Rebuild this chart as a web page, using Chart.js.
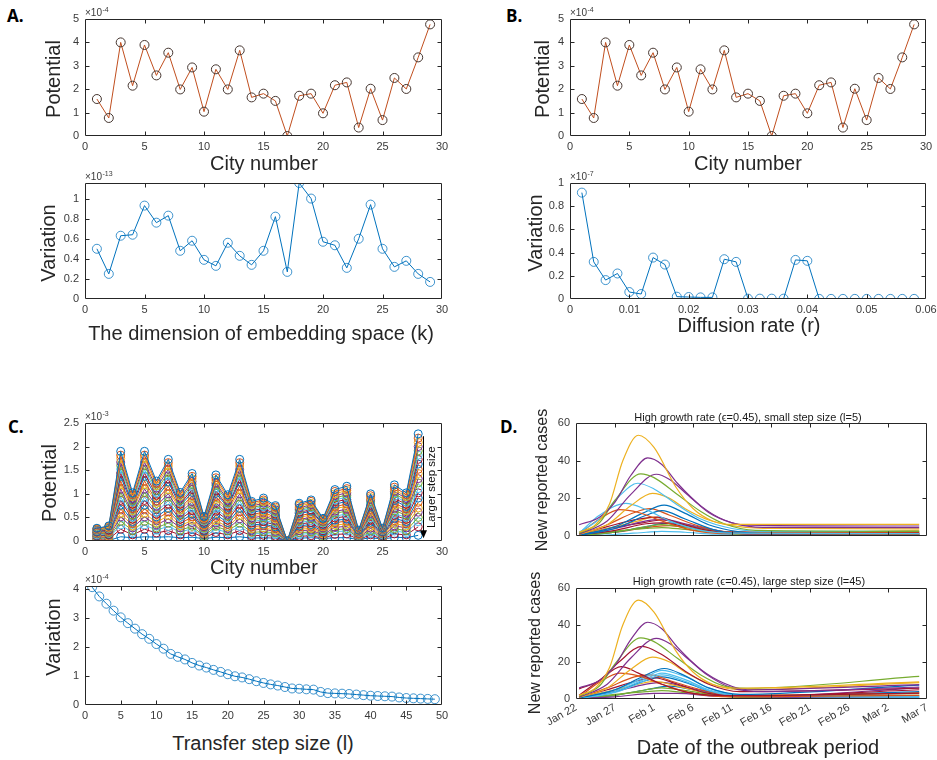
<!DOCTYPE html>
<html>
<head>
<meta charset="utf-8">
<script src="https://cdn.jsdelivr.net/npm/chart.js@4.4.1/dist/chart.umd.min.js"></script>
<style>
  body { margin: 0; background: #fff; width: 937px; height: 760px; position: relative; overflow: hidden;
         font-family: "Liberation Sans", Arial, sans-serif; }
  .box { position: absolute; }
  .lbl { position: absolute; transform: translate(-50%, -50%); white-space: nowrap; color: #262626; font-size: 20px; }
  .rot { transform: translate(-50%, -50%) rotate(-90deg); }
  .small { font-size: 16px; }
  .ttl { font-size: 11px; color: #1a1a1a; }
  .tag { position: absolute; font-family: "Open Sans", sans-serif; font-weight: 700; font-size: 17px; color: #000; }
</style>
</head>
<body>
<div class="box" id="a1"><canvas></canvas></div>
<div class="box" id="a2"><canvas></canvas></div>
<div class="box" id="b1"><canvas></canvas></div>
<div class="box" id="b2"><canvas></canvas></div>
<div class="box" id="c1"><canvas></canvas></div>
<div class="box" id="c2"><canvas></canvas></div>
<div class="box" id="d1"><canvas></canvas></div>
<div class="box" id="d2"><canvas></canvas></div>

<div class="tag" style="left:7px;top:4px">A.</div>
<div class="tag" style="left:506px;top:4px">B.</div>
<div class="tag" style="left:8px;top:415px">C.</div>
<div class="tag" style="left:500px;top:415px">D.</div>

<div class="lbl rot" style="left:53px;top:79px">Potential</div>
<div class="lbl" style="left:264px;top:163px">City number</div>
<div class="lbl rot" style="left:48px;top:243px">Variation</div>
<div class="lbl" style="left:261px;top:333px">The dimension of embedding space (k)</div>

<div class="lbl rot" style="left:542px;top:79px">Potential</div>
<div class="lbl" style="left:748px;top:163px">City number</div>
<div class="lbl rot" style="left:535px;top:233px">Variation</div>
<div class="lbl" style="left:749px;top:325px">Diffusion rate (r)</div>

<div class="lbl rot" style="left:49px;top:483px">Potential</div>
<div class="lbl" style="left:264px;top:567px">City number</div>
<div class="lbl rot" style="left:53px;top:637px">Variation</div>
<div class="lbl" style="left:263px;top:743px">Transfer step size (l)</div>

<div class="lbl ttl" style="left:748px;top:417px">High growth rate (&#x3F5;=0.45), small step size (l=5)</div>
<div class="lbl rot small" style="left:542px;top:480px">New reported cases</div>
<div class="lbl ttl" style="left:749px;top:581px">High growth rate (&#x3F5;=0.45), large step size (l=45)</div>
<div class="lbl rot small" style="left:535px;top:643px">New reported cases</div>
<div class="lbl" style="left:758px;top:747px">Date of the outbreak period</div>

<script>
(() => {
  "use strict";

  // ---- data ----
  const cityNumbers = [1, 2, 3, 4, 5, 6, 7, 8, 9, 10, 11, 12, 13, 14, 15, 16, 17, 18, 19, 20,
    21, 22, 23, 24, 25, 26, 27, 28, 29];
  // potential, x1e-4
  const cityPotential = [1.58, 0.77, 4.00, 2.15, 3.89, 2.59, 3.56, 1.99, 2.93, 1.04, 2.85, 1.99,
    3.66, 1.65, 1.81, 1.50, 0.00, 1.72, 1.81, 0.97, 2.17, 2.29, 0.36, 2.02, 0.68, 2.48, 2.01, 3.36, 4.77];

  const embedDims = [1, 2, 3, 4, 5, 6, 7, 8, 9, 10, 11, 12, 13, 14, 15, 16, 17, 18, 19, 20,
    21, 22, 23, 24, 25, 26, 27, 28, 29];
  // variation, x1e-13
  const embedVariation = [0.50, 0.25, 0.63, 0.64, 0.93, 0.76, 0.83, 0.48, 0.58, 0.39, 0.33, 0.56,
    0.43, 0.34, 0.48, 0.82, 0.27, 1.155, 1.00, 0.57, 0.535, 0.31, 0.60, 0.94, 0.50, 0.32, 0.38, 0.25, 0.17];

  const diffusionRates = [0.002, 0.004, 0.006, 0.008, 0.010, 0.012, 0.014, 0.016, 0.018, 0.020,
    0.022, 0.024, 0.026, 0.028, 0.030, 0.032, 0.034, 0.036, 0.038, 0.040, 0.042, 0.044, 0.046,
    0.048, 0.050, 0.052, 0.054, 0.056, 0.058];
  // variation, x1e-7
  const diffusionVariation = [0.917, 0.32, 0.163, 0.22, 0.06, 0.043, 0.357, 0.297, 0.02, 0.017,
    0.014, 0.014, 0.343, 0.32, 0.003, 0.003, 0.003, 0.003, 0.337, 0.329, 0.001, 0.001, 0.001,
    0.001, 0.001, 0.001, 0.001, 0.001, 0.001];

  const stepCities = [1, 2, 3, 4, 5, 6, 7, 8, 9, 10, 11, 12, 13, 14, 15, 16, 17, 18, 19, 20,
    21, 22, 23, 24, 25, 26, 27, 28];
  // potential per city for a selection of step sizes (small -> large), x1e-3
  const stepPotential = [
    [0.27, 0.32, 1.90, 1.02, 1.90, 1.27, 1.73, 1.03, 1.43, 0.52, 1.40, 0.98, 1.73, 0.84, 0.91, 0.75, 0.00, 0.80, 0.87, 0.48, 1.09, 1.16, 0.23, 1.00, 0.27, 1.19, 1.02, 2.27],
    [0.26, 0.31, 1.82, 0.98, 1.82, 1.22, 1.66, 0.99, 1.37, 0.50, 1.34, 0.94, 1.66, 0.81, 0.87, 0.72, 0.00, 0.77, 0.84, 0.46, 1.05, 1.11, 0.22, 0.96, 0.26, 1.14, 0.98, 2.18],
    [0.25, 0.29, 1.75, 0.94, 1.75, 1.17, 1.59, 0.95, 1.32, 0.48, 1.29, 0.90, 1.59, 0.77, 0.84, 0.69, 0.00, 0.74, 0.80, 0.44, 1.00, 1.07, 0.21, 0.92, 0.25, 1.09, 0.94, 2.09],
    [0.24, 0.28, 1.67, 0.90, 1.67, 1.12, 1.52, 0.91, 1.26, 0.46, 1.23, 0.86, 1.52, 0.74, 0.80, 0.66, 0.00, 0.70, 0.77, 0.42, 0.96, 1.02, 0.20, 0.88, 0.24, 1.05, 0.90, 2.00],
    [0.23, 0.27, 1.60, 0.86, 1.60, 1.07, 1.45, 0.87, 1.20, 0.44, 1.18, 0.82, 1.45, 0.71, 0.76, 0.63, 0.00, 0.67, 0.73, 0.40, 0.92, 0.97, 0.19, 0.84, 0.23, 1.00, 0.86, 1.91],
    [0.22, 0.26, 1.52, 0.82, 1.52, 1.02, 1.38, 0.82, 1.14, 0.42, 1.12, 0.78, 1.38, 0.67, 0.73, 0.60, 0.00, 0.64, 0.70, 0.38, 0.87, 0.93, 0.18, 0.80, 0.22, 0.95, 0.82, 1.82],
    [0.21, 0.24, 1.44, 0.78, 1.44, 0.97, 1.31, 0.78, 1.09, 0.40, 1.06, 0.74, 1.31, 0.64, 0.69, 0.57, 0.00, 0.61, 0.66, 0.36, 0.83, 0.88, 0.17, 0.76, 0.21, 0.90, 0.78, 1.73],
    [0.19, 0.23, 1.37, 0.73, 1.37, 0.91, 1.25, 0.74, 1.03, 0.37, 1.01, 0.71, 1.25, 0.60, 0.66, 0.54, 0.00, 0.58, 0.63, 0.35, 0.78, 0.84, 0.17, 0.72, 0.19, 0.86, 0.73, 1.63],
    [0.18, 0.21, 1.27, 0.68, 1.27, 0.85, 1.16, 0.69, 0.96, 0.35, 0.94, 0.66, 1.16, 0.56, 0.61, 0.50, 0.00, 0.54, 0.58, 0.32, 0.73, 0.78, 0.15, 0.67, 0.18, 0.80, 0.68, 1.52],
    [0.17, 0.20, 1.20, 0.64, 1.20, 0.80, 1.09, 0.65, 0.90, 0.33, 0.88, 0.62, 1.09, 0.53, 0.57, 0.47, 0.00, 0.50, 0.55, 0.30, 0.69, 0.73, 0.14, 0.63, 0.17, 0.75, 0.64, 1.43],
    [0.16, 0.19, 1.10, 0.59, 1.10, 0.74, 1.00, 0.60, 0.83, 0.30, 0.81, 0.57, 1.00, 0.49, 0.53, 0.44, 0.00, 0.46, 0.50, 0.28, 0.63, 0.67, 0.13, 0.58, 0.16, 0.69, 0.59, 1.32],
    [0.15, 0.17, 1.03, 0.55, 1.03, 0.69, 0.93, 0.56, 0.77, 0.28, 0.76, 0.53, 0.93, 0.45, 0.49, 0.41, 0.00, 0.43, 0.47, 0.26, 0.59, 0.63, 0.12, 0.54, 0.15, 0.64, 0.55, 1.23],
    [0.13, 0.16, 0.93, 0.50, 0.93, 0.62, 0.85, 0.50, 0.70, 0.25, 0.69, 0.48, 0.85, 0.41, 0.45, 0.37, 0.00, 0.39, 0.43, 0.24, 0.53, 0.57, 0.11, 0.49, 0.13, 0.58, 0.50, 1.11],
    [0.12, 0.14, 0.86, 0.46, 0.86, 0.57, 0.78, 0.46, 0.64, 0.23, 0.63, 0.44, 0.78, 0.38, 0.41, 0.34, 0.00, 0.36, 0.39, 0.22, 0.49, 0.52, 0.10, 0.45, 0.12, 0.54, 0.46, 1.02],
    [0.11, 0.13, 0.76, 0.41, 0.76, 0.51, 0.69, 0.41, 0.57, 0.21, 0.56, 0.39, 0.69, 0.34, 0.36, 0.30, 0.00, 0.32, 0.35, 0.19, 0.44, 0.46, 0.09, 0.40, 0.11, 0.48, 0.41, 0.91],
    [0.10, 0.12, 0.68, 0.37, 0.68, 0.46, 0.62, 0.37, 0.51, 0.19, 0.50, 0.35, 0.62, 0.30, 0.33, 0.27, 0.00, 0.29, 0.31, 0.17, 0.39, 0.42, 0.08, 0.36, 0.10, 0.43, 0.37, 0.82],
    [0.08, 0.10, 0.59, 0.32, 0.59, 0.39, 0.54, 0.32, 0.44, 0.16, 0.43, 0.30, 0.54, 0.26, 0.28, 0.23, 0.00, 0.25, 0.27, 0.15, 0.34, 0.36, 0.07, 0.31, 0.08, 0.37, 0.32, 0.70],
    [0.07, 0.09, 0.51, 0.28, 0.51, 0.34, 0.47, 0.28, 0.39, 0.14, 0.38, 0.26, 0.47, 0.23, 0.25, 0.20, 0.00, 0.22, 0.23, 0.13, 0.29, 0.31, 0.06, 0.27, 0.07, 0.32, 0.28, 0.61],
    [0.06, 0.07, 0.42, 0.22, 0.42, 0.28, 0.38, 0.23, 0.31, 0.11, 0.31, 0.22, 0.38, 0.18, 0.20, 0.17, 0.00, 0.18, 0.19, 0.11, 0.24, 0.26, 0.05, 0.22, 0.06, 0.26, 0.22, 0.50],
    [0.05, 0.06, 0.34, 0.18, 0.34, 0.23, 0.31, 0.19, 0.26, 0.09, 0.25, 0.18, 0.31, 0.15, 0.16, 0.14, 0.00, 0.14, 0.16, 0.09, 0.20, 0.21, 0.04, 0.18, 0.05, 0.21, 0.18, 0.41],
    [0.04, 0.04, 0.25, 0.13, 0.25, 0.17, 0.22, 0.13, 0.19, 0.07, 0.18, 0.13, 0.22, 0.11, 0.12, 0.10, 0.00, 0.10, 0.11, 0.06, 0.14, 0.15, 0.03, 0.13, 0.04, 0.15, 0.13, 0.30],
    [0.01, 0.01, 0.09, 0.07, 0.09, 0.08, 0.09, 0.07, 0.08, 0.05, 0.08, 0.07, 0.09, 0.06, 0.07, 0.06, 0.00, 0.06, 0.07, 0.05, 0.07, 0.07, 0.03, 0.07, 0.04, 0.08, 0.07, 0.12]
  ];

  const stepSizes = [1, 2, 3, 4, 5, 6, 7, 8, 9, 10, 11, 12, 13, 14, 15, 16, 17, 18, 19, 20,
    21, 22, 23, 24, 25, 26, 27, 28, 29, 30, 31, 32, 33, 34, 35, 36, 37, 38, 39, 40,
    41, 42, 43, 44, 45, 46, 47, 48, 49];
  // variation, x1e-4
  const stepVariation = [4.06, 3.74, 3.49, 3.25, 3.02, 2.82, 2.63, 2.44, 2.28, 2.10,
    1.94, 1.76, 1.66, 1.57, 1.45, 1.36, 1.29, 1.21, 1.14, 1.06,
    0.99, 0.95, 0.89, 0.82, 0.76, 0.71, 0.67, 0.62, 0.57, 0.56,
    0.54, 0.53, 0.45, 0.41, 0.40, 0.39, 0.38, 0.36, 0.34, 0.32,
    0.31, 0.30, 0.29, 0.26, 0.24, 0.23, 0.22, 0.21, 0.20];

  // outbreak curves: [day since Jan 22, new reported cases]
  const smallStepCurves = [
    [[0.4, 2], [2.5, 6], [4.3, 17], [6, 40], [8, 53.5], [10, 47], [12.8, 26], [15, 14.6], [17.5, 8], [20, 6.2], [44, 6.2]],
    [[0.4, 6], [3, 10], [5, 18], [7, 32], [9.2, 41.5], [11, 38], [13, 28], [16, 16], [19, 8.5], [22, 5.8], [44, 5.3]],
    [[0.4, 1.5], [3, 7], [5, 19], [8.3, 33], [10, 31], [13, 22], [16, 13], [19, 6.5], [23, 3], [44, 2.5]],
    [[0.4, 1], [4, 8], [7, 22], [10.3, 32.8], [12, 30], [14, 23], [17, 12.5], [20, 7], [24, 4.6], [44, 4.4]],
    [[0.4, 2], [3, 9], [5.5, 21], [7.9, 28], [10, 25], [13, 16.5], [16, 9], [20, 4], [24, 2.5], [44, 2.5]],
    [[0.4, 0.8], [4, 6], [7, 16], [9.8, 22.6], [12, 20], [14, 14.5], [17, 8.5], [20, 5.5], [24, 4], [44, 3.8]],
    [[0.4, 1.5], [3, 11], [6.4, 17.3], [9, 14], [12, 8], [16, 3], [20, 1.5], [44, 1.3]],
    [[0.4, 1], [3, 9], [5.6, 14], [8, 12.5], [11, 8], [15, 3], [20, 1.2], [44, 1]],
    [[0.4, 0.5], [5, 5], [8.5, 12], [11.3, 16.4], [14, 12], [17, 6], [21, 2.2], [25, 1.2], [44, 1]],
    [[0.4, 0.3], [5, 4], [9, 11], [11, 13.5], [14, 9], [18, 3], [22, 1.2], [44, 0.8]],
    [[0.4, 0.5], [4, 6], [7.5, 12.5], [9.5, 14.5], [12, 11], [16, 5], [20, 2], [44, 1.6]],
    [[0.4, 1], [4, 5], [8, 9], [10.5, 10], [13, 7], [17, 3], [21, 1.5], [44, 1.8]],
    [[0.4, 0.5], [5, 4], [9, 8], [11, 9], [14, 6.5], [18, 3], [22, 1], [44, 0.9]],
    [[0.4, 0.2], [5, 2], [9, 5], [11, 6], [14, 4.5], [18, 2], [22, 0.8], [44, 0.5]],
    [[0.4, 1], [4, 4], [8, 8], [10, 10], [13, 7], [17, 3], [22, 1.5], [44, 3]],
    [[0.4, 0.1], [5, 0.8], [9, 2], [11, 2.5], [14, 2], [18, 1], [44, 0.3]],
    [[0.4, 0.3], [5, 3], [9, 6.5], [11, 7], [14, 5], [18, 2], [22, 1], [44, 1.1]],
    [[0.4, 0.5], [5, 2.5], [9, 4], [11, 4.5], [14, 3.5], [18, 2], [44, 1]],
    [[0.4, 0.2], [5, 2], [9, 5], [12, 7], [15, 5], [19, 2], [44, 0.5]],
    [[0.4, 0.2], [5, 2], [10, 5], [12, 5.5], [15, 4], [19, 2], [44, 2.4]],
    [[0.4, 0.5], [4, 4], [8.5, 7], [11, 8.5], [14, 6], [18, 2.5], [44, 1.5]]
  ];
  const largeStepCurves = [
    [[0.4, 2], [2.5, 6], [4.3, 17], [6, 40], [8, 53.5], [10, 47], [12.8, 26], [15, 14.6], [17.5, 8], [21, 5.8], [44, 9.3]],
    [[0.4, 6], [3, 10], [5, 18], [7, 32], [9.2, 41.5], [11, 38], [13, 28], [16, 16], [19, 8.5], [22, 5], [44, 7.8]],
    [[0.4, 1.5], [3, 7], [5, 19], [8.3, 33], [10, 31], [13, 22], [16, 13], [19, 7], [22, 5.8], [44, 12.2]],
    [[0.4, 1], [4, 8], [7, 22], [10.3, 32.8], [12, 30], [14, 23], [17, 12.5], [20, 6], [24, 4], [44, 6.5]],
    [[0.4, 5.5], [3, 10], [5.5, 20], [8.5, 28.5], [11, 24], [14, 15], [17, 8], [21, 4], [44, 5.8]],
    [[0.4, 0.8], [4, 6], [7, 16], [9.8, 22.6], [12, 20], [14, 14.5], [17, 8.5], [21, 5], [44, 8.8]],
    [[0.4, 2], [3, 10], [5.8, 17.5], [8, 14], [11, 8], [15, 3], [20, 1.8], [44, 3.2]],
    [[0.4, 1], [3, 9], [5.6, 14], [8, 12.5], [11, 8], [15, 3], [20, 1.2], [44, 2]],
    [[0.4, 0.5], [5, 5], [8.5, 12], [11.3, 16.5], [14, 12.5], [17, 6], [21, 2.5], [44, 7.5]],
    [[0.4, 0.5], [5, 5], [9, 12], [11, 15.5], [14, 12], [17, 6], [21, 2], [44, 1.5]],
    [[0.4, 0.3], [5, 4], [9, 11], [11, 14], [14, 10.5], [17, 5], [21, 2], [44, 1]],
    [[0.4, 0.3], [5, 3.5], [9, 10], [11, 13], [14, 9.5], [17, 4.5], [21, 1.5], [44, 1.2]],
    [[0.4, 1], [4, 5], [8, 10], [10, 11.5], [13, 8], [17, 3], [22, 1.5], [44, 5]],
    [[0.4, 0.3], [5, 1.2], [10, 3], [13, 3], [18, 1.5], [44, 0.5]],
    [[0.4, 0.2], [5, 2], [9, 5], [11, 6], [14, 4.5], [18, 2], [22, 0.8], [44, 1.5]],
    [[0.4, 0.5], [5, 2.5], [9, 4], [11, 4.5], [14, 3.5], [18, 2], [44, 2]],
    [[0.4, 0.5], [4, 6], [7.5, 12], [9.5, 13], [12, 10], [16, 5], [20, 2], [44, 3]],
    [[0.4, 0.3], [5, 4], [9, 10], [11, 12], [14, 9], [18, 3], [22, 1.5], [44, 4]],
    [[0.4, 1], [4, 4], [8, 8], [10, 9.5], [13, 7], [17, 3], [22, 1.5], [44, 3.5]],
    [[0.4, 0.5], [5, 4], [9, 8], [11, 9], [14, 6.5], [18, 3], [22, 1.2], [44, 6]],
    [[0.4, 0.2], [5, 2], [9, 5], [12, 7], [15, 5], [19, 2], [44, 0.8]]
  ];

  // tick values / labels
  const cityTicks = [0, 5, 10, 15, 20, 25, 30];
  const potentialTicks = [0, 1, 2, 3, 4, 5];
  const embedVarTicks = [0, 0.2, 0.4, 0.6, 0.8, 1];
  const rateTicks = [0, 0.01, 0.02, 0.03, 0.04, 0.05, 0.06];
  const rateVarTicks = [0, 0.2, 0.4, 0.6, 0.8, 1];
  const stepPotTicks = [0, 0.5, 1, 1.5, 2, 2.5];
  const stepTicks = [0, 5, 10, 15, 20, 25, 30, 35, 40, 45, 50];
  const stepVarTicks = [0, 1, 2, 3, 4];
  const caseTicks = [0, 20, 40, 60];
  const dayTicks = [0, 5, 10, 15, 20, 25, 30, 35, 40, 45];
  const dayLabels = ["Jan 22", "Jan 27", "Feb 1", "Feb 6", "Feb 11", "Feb 16", "Feb 21", "Feb 26", "Mar 2", "Mar 7"];

  // ---- styling ----
  const FONT = '"Liberation Sans", Arial, sans-serif';
  const TICK_COLOR = "#3a3a3a";
  const MC = { blue: "#0072BD", orange: "#D95319", yellow: "#EDB120", purple: "#7E2F8E",
               green: "#77AC30", cyan: "#4DBEEE", red: "#A2142F" };
  const cycle = [MC.blue, MC.orange, MC.yellow, MC.purple, MC.green, MC.cyan, MC.red];
  const smallStepColors = [MC.yellow, MC.purple, MC.green, MC.purple, MC.cyan, MC.yellow, MC.cyan,
    MC.orange, MC.blue, MC.blue, MC.orange, MC.red, MC.purple, MC.green, MC.yellow, MC.cyan,
    MC.red, MC.green, MC.blue, MC.orange, MC.red];
  const largeStepColors = [MC.yellow, MC.purple, MC.green, MC.purple, MC.red, MC.yellow, MC.red,
    MC.orange, MC.blue, MC.cyan, MC.cyan, MC.cyan, MC.red, MC.purple, MC.green, MC.green,
    MC.orange, MC.blue, MC.yellow, MC.purple, MC.blue];

  // plot areas (page px)
  const areas = {
    a1: { l: 85, t: 19, r: 442, b: 136, xh: 24 },
    a2: { l: 85, t: 183, r: 442, b: 299, xh: 24 },
    b1: { l: 570, t: 19, r: 926, b: 136, xh: 24 },
    b2: { l: 570, t: 183, r: 926, b: 299, xh: 24 },
    c1: { l: 85, t: 423, r: 442, b: 541, xh: 24 },
    c2: { l: 85, t: 586, r: 442, b: 705, xh: 24 },
    d1: { l: 576, t: 423, r: 927, b: 536, xh: 10 },
    d2: { l: 576, t: 588, r: 927, b: 699, xh: 50 }
  };
  const Y_W = 45, PAD_T = 14, PAD_R = 16;

  // MATLAB style box with inward ticks
  const matlabBox = {
    id: "matlabBox",
    afterDatasetsDraw(chart) {
      const { ctx, chartArea: a, scales: { x, y } } = chart;
      const L = Math.round(a.left) + 0.5, R = Math.round(a.right) - 0.5;
      const T = Math.round(a.top) + 0.5, B = Math.round(a.bottom) - 0.5;
      ctx.save();
      ctx.strokeStyle = "#262626";
      ctx.lineWidth = 1;
      ctx.beginPath();
      ctx.rect(L, T, R - L, B - T);
      x.ticks.forEach((t) => {
        const px = Math.round(x.getPixelForValue(t.value)) + 0.5;
        if (px <= L + 1 || px >= R - 1) return;
        ctx.moveTo(px, B); ctx.lineTo(px, B - 4);
        ctx.moveTo(px, T); ctx.lineTo(px, T + 4);
      });
      y.ticks.forEach((t) => {
        const py = Math.round(y.getPixelForValue(t.value)) + 0.5;
        if (py <= T + 1 || py >= B - 1) return;
        ctx.moveTo(L, py); ctx.lineTo(L + 4, py);
        ctx.moveTo(R, py); ctx.lineTo(R - 4, py);
      });
      ctx.stroke();
      ctx.restore();
    }
  };

  // "x10^n" exponent above the y axis
  const exponent = {
    id: "exponent",
    afterDraw(chart, args, opts) {
      if (!opts.power) return;
      const { ctx, chartArea: a } = chart;
      ctx.save();
      ctx.fillStyle = TICK_COLOR;
      ctx.textBaseline = "alphabetic";
      ctx.font = `10px ${FONT}`;
      ctx.fillText("\u00d710", a.left, a.top - 3);
      const w = ctx.measureText("\u00d710").width;
      ctx.font = `7px ${FONT}`;
      ctx.fillText(opts.power, a.left + w + 0.5, a.top - 7);
      ctx.restore();
    }
  };

  // "Larger step size" arrow in panel C
  const stepArrow = {
    id: "stepArrow",
    afterDatasetsDraw(chart, args, opts) {
      if (opts.x === undefined) return;
      const { ctx, scales: { x, y } } = chart;
      const px = Math.round(x.getPixelForValue(opts.x)) + 0.5;
      const y0 = y.getPixelForValue(opts.from);
      const y1 = y.getPixelForValue(opts.to);
      ctx.save();
      ctx.strokeStyle = "#000";
      ctx.fillStyle = "#000";
      ctx.lineWidth = 1;
      ctx.beginPath();
      ctx.moveTo(px, y0);
      ctx.lineTo(px, y1 - 5);
      ctx.stroke();
      ctx.beginPath();
      ctx.moveTo(px - 3.5, y1 - 8);
      ctx.lineTo(px + 3.5, y1 - 8);
      ctx.lineTo(px, y1);
      ctx.closePath();
      ctx.fill();
      ctx.translate(px + 8, (y0 + y1) / 2);
      ctx.rotate(-Math.PI / 2);
      ctx.font = `11.5px ${FONT}`;
      ctx.textAlign = "center";
      ctx.textBaseline = "middle";
      ctx.fillStyle = "#111";
      ctx.fillText(opts.label, 0, 0);
      ctx.restore();
    }
  };

  Chart.register(matlabBox, exponent, stepArrow);

  function axis(min, max, tickValues, isX, extraTicks) {
    return {
      type: "linear",
      min: min,
      max: max,
      grid: { display: false, drawTicks: false },
      border: { display: false },
      ticks: Object.assign({
        color: TICK_COLOR,
        font: { family: FONT, size: 11 },
        padding: isX ? 4 : 6,
        autoSkip: false,
        maxRotation: 0,
        minRotation: 0,
        callback: (v) => String(+Number(v).toFixed(4))
      }, extraTicks || {}),
      afterBuildTicks: (s) => { s.ticks = tickValues.map((v) => ({ value: v })); },
      afterFit: (s) => {
        if (isX) s.height = s._fixedSize; else s.width = Y_W;
        s.paddingLeft = 0; s.paddingRight = 0; s.paddingTop = 0; s.paddingBottom = 0;
      }
    };
  }

  function makeChart(id, datasets, xScale, yScale, plugins) {
    const area = areas[id];
    const el = document.getElementById(id);
    el.style.left = (area.l - Y_W) + "px";
    el.style.top = (area.t - PAD_T) + "px";
    el.style.width = (area.r - area.l + Y_W + PAD_R) + "px";
    el.style.height = (area.b - area.t + PAD_T + area.xh) + "px";
    const fit = xScale.afterFit;
    xScale.afterFit = (s) => { s._fixedSize = area.xh; fit(s); };
    return new Chart(el.querySelector("canvas"), {
      type: "line",
      data: { datasets: datasets },
      options: {
        responsive: true,
        maintainAspectRatio: false,
        animation: false,
        events: [],
        layout: { padding: { top: PAD_T, right: PAD_R, left: 0, bottom: 0 } },
        scales: { x: xScale, y: yScale },
        plugins: Object.assign({ legend: { display: false }, tooltip: { enabled: false } }, plugins || {})
      }
    });
  }

  function markerSeries(xs, ys, lineColor, markerColor, radius) {
    return {
      data: xs.map((x, i) => ({ x: x, y: ys[i] })),
      borderColor: lineColor,
      borderWidth: 1,
      tension: 0,
      pointStyle: "circle",
      pointRadius: radius,
      pointBorderWidth: 1,
      pointBorderColor: markerColor,
      pointBackgroundColor: "rgba(0,0,0,0)"
    };
  }

  function curveSeries(curves, colors) {
    return curves.map((c, i) => ({
      data: c.map((p) => ({ x: p[0], y: p[1] })),
      borderColor: colors[i],
      borderWidth: 1.2,
      pointRadius: 0,
      cubicInterpolationMode: "monotone"
    }));
  }

  // Panel A
  makeChart("a1", [markerSeries(cityNumbers, cityPotential, "#C04E1E", "#45352f", 4.5)],
    axis(0, 30, cityTicks, true), axis(0, 5, potentialTicks, false), { exponent: { power: "-4" } });
  makeChart("a2", [markerSeries(embedDims, embedVariation, MC.blue, "rgba(0,114,189,0.75)", 4.5)],
    axis(0, 30, cityTicks, true), axis(0, 1.155, embedVarTicks, false), { exponent: { power: "-13" } });

  // Panel B
  makeChart("b1", [markerSeries(cityNumbers, cityPotential, "#C04E1E", "#45352f", 4.5)],
    axis(0, 30, cityTicks, true), axis(0, 5, potentialTicks, false), { exponent: { power: "-4" } });
  makeChart("b2", [markerSeries(diffusionRates, diffusionVariation, MC.blue, "rgba(0,114,189,0.75)", 4.5)],
    axis(0, 0.06, rateTicks, true), axis(0, 1, rateVarTicks, false), { exponent: { power: "-7" } });

  // Panel C
  const stepSets = stepPotential.map((row, i) => {
    const col = i === stepPotential.length - 1 ? MC.blue : cycle[i % cycle.length];
    return markerSeries(stepCities, row, col, col, 4);
  });
  makeChart("c1", stepSets, axis(0, 30, cityTicks, true), axis(0, 2.5, stepPotTicks, false),
    { exponent: { power: "-3" }, stepArrow: { x: 28.4, from: 2.22, to: 0.06, label: "Larger step size" } });
  makeChart("c2", [markerSeries(stepSizes, stepVariation, MC.blue, "rgba(0,114,189,0.75)", 4.5)],
    axis(0, 50, stepTicks, true), axis(0, 4.1, stepVarTicks, false), { exponent: { power: "-4" } });

  // Panel D
  makeChart("d1", curveSeries(smallStepCurves, smallStepColors),
    axis(0, 45, dayTicks, true, { display: false }), axis(0, 60, caseTicks, false));
  makeChart("d2", curveSeries(largeStepCurves, largeStepColors),
    axis(0, 45, dayTicks, true, {
      maxRotation: 30, minRotation: 30, padding: 2,
      callback: (v) => dayLabels[dayTicks.indexOf(v)]
    }), axis(0, 60, caseTicks, false));
})();
</script>
</body>
</html>
